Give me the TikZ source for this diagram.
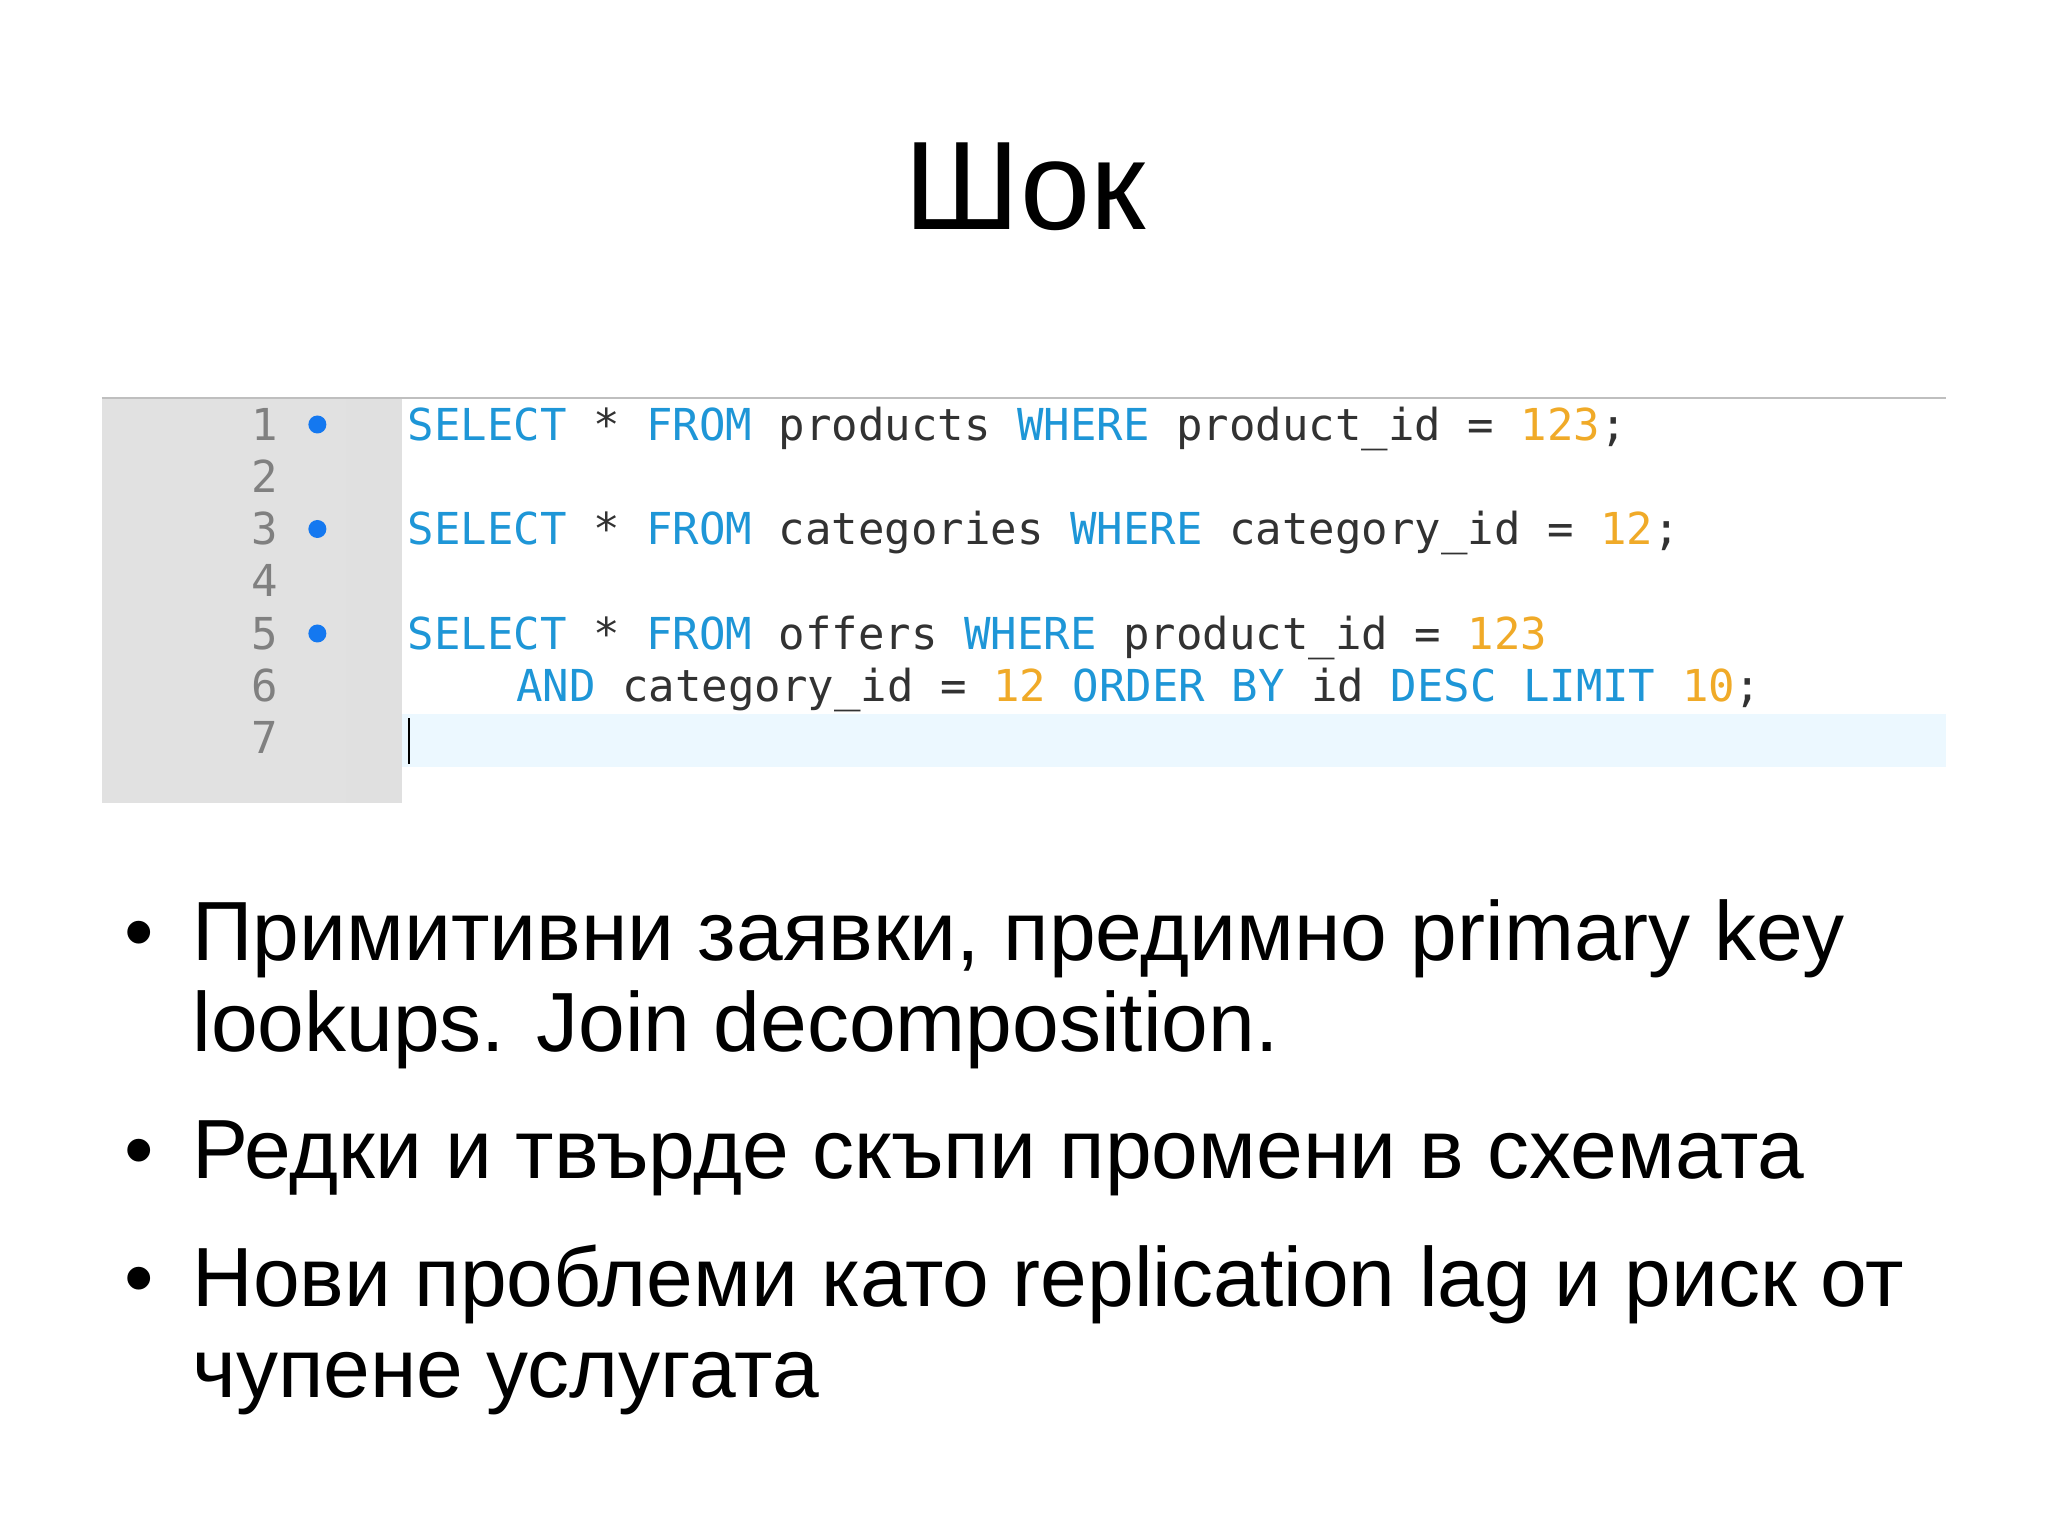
\documentclass[tikz,border=0pt]{standalone}
\usepackage{fontspec}
\setmainfont{Liberation Sans}
\newfontfamily\codefont{DejaVu Sans Mono}
\definecolor{kw}{RGB}{30,150,215}
\definecolor{num}{RGB}{240,170,40}
\definecolor{txt}{RGB}{50,50,50}
\definecolor{gut}{RGB}{225,225,225}
\definecolor{hl}{RGB}{236,248,255}
\definecolor{dotb}{RGB}{20,120,240}
\begin{document}
\begin{tikzpicture}[x=0.653pt,y=-0.653pt,
  codeline/.style={anchor=base west,inner sep=0pt,font=\codefont\fontsize{22}{26}\selectfont,text=txt},
  lnum/.style={anchor=base,inner sep=0pt,font=\codefont\fontsize{22}{26}\selectfont,text=gray},
  bul/.style={anchor=base west,inner sep=0pt,font=\fontsize{42}{50}\selectfont},
  bp/.style={circle,fill=dotb,inner sep=0pt,minimum size=9pt}]
\useasboundingbox (0,0) rectangle (1568,1175);
\fill[white] (0,0) rectangle (1568,1175);
\node[anchor=base,inner sep=0pt,font=\fontsize{63}{70}\selectfont] (title) at (785,176) {Шок};
% code area
\fill[gut] (78,305) rectangle (265,615);
\fill[black!12] (265,305) rectangle (308,615);
\fill[hl] (308,547) rectangle (1490,587);
\draw[black!25,line width=1pt] (78,305) -- (1490,305);
\draw[black,line width=1pt] (313,550) -- (313,585);
\foreach \n/\yy in {1/337,2/377,3/417,4/457,5/497,6/537,7/577}
  \node[lnum] (n\n) at (203,\yy) {\n};
\node[bp] (d1) at (243,325) {};
\node[bp] (d3) at (243,405) {};
\node[bp] (d5) at (243,485) {};
\node[codeline] (c1) at (312,337) {\textcolor{kw}{SELECT} * \textcolor{kw}{FROM} products \textcolor{kw}{WHERE} product\_id = \textcolor{num}{123};};
\node[codeline] (c3) at (312,417) {\textcolor{kw}{SELECT} * \textcolor{kw}{FROM} categories \textcolor{kw}{WHERE} category\_id = \textcolor{num}{12};};
\node[codeline] (c5) at (312,497) {\textcolor{kw}{SELECT} * \textcolor{kw}{FROM} offers \textcolor{kw}{WHERE} product\_id = \textcolor{num}{123}};
\node[codeline] (c6) at (395,537) {\textcolor{kw}{AND} category\_id = \textcolor{num}{12} \textcolor{kw}{ORDER BY} id \textcolor{kw}{DESC LIMIT} \textcolor{num}{10};};
% bullets
\foreach \yy/\nm in {735/b1,902/b2,1000/b3}
  \node[bul] (\nm) at (95,\yy) {•};
\node[bul] (t1) at (147,735) {Примитивни заявки, предимно primary key};
\node[bul] (t1b) at (147,805) {lookups. Join decomposition.};
\node[bul] (t2) at (147,902) {Редки и твърде скъпи промени в схемата};
\node[bul] (t3) at (147,1000) {Нови проблеми като replication lag и риск от};
\node[bul] (t3b) at (147,1070) {чупене услугата};
\end{tikzpicture}
\end{document}
